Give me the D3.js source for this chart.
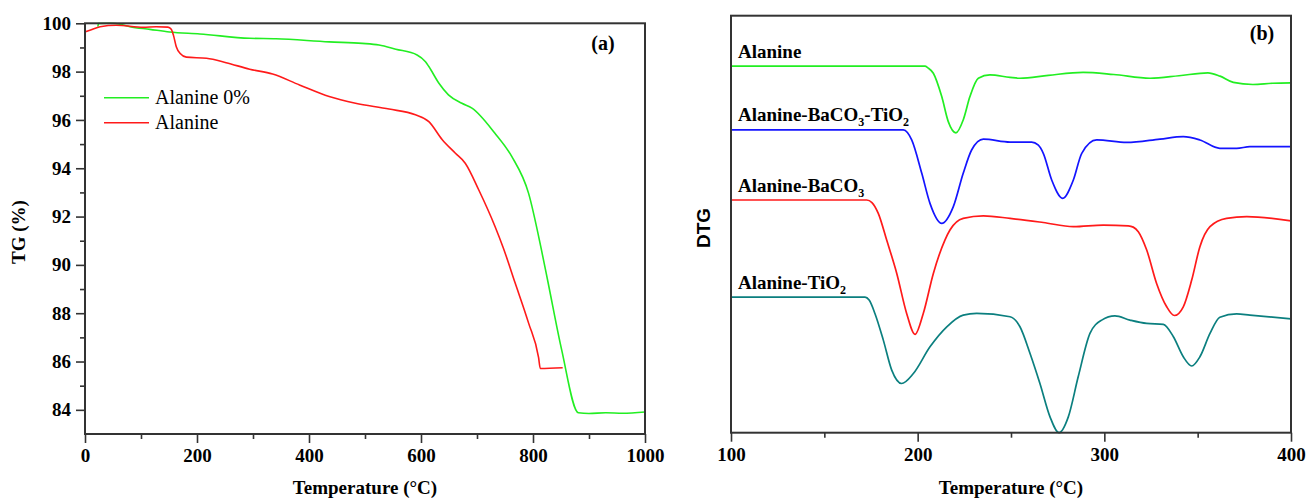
<!DOCTYPE html>
<html>
<head>
<meta charset="utf-8">
<script src="https://cdn.jsdelivr.net/npm/d3@7"></script>
<style>
  body { margin: 0; background: #fff; }
  svg text { font-family: "Liberation Serif", "Times New Roman", serif; fill: #000; }
</style>
</head>
<body>
<svg id="chart" width="1307" height="499"></svg>
<script>
// ---------- Panel (a): TG curves, [temperature °C, mass %] ----------
const tgAlanine0 = [
  [23, 99.86], [24, 99.99], [45, 100.0], [65, 99.95], [80, 99.86], [116, 99.75],
  [151, 99.64], [205, 99.56], [294, 99.38], [341, 99.36], [436, 99.23], [495, 99.17],
  [525, 99.10], [555, 98.93], [593, 98.69], [608, 98.41], [614, 98.21], [632, 97.52],
  [649, 97.04], [673, 96.69], [691, 96.49], [732, 95.45], [762, 94.49], [792, 92.97],
  [815, 90.63], [827, 89.26], [851, 86.50], [881, 83.88], [900, 83.85], [930, 83.88],
  [960, 83.86], [1000, 83.91]
];
const tgAlanine = [
  [0, 99.64], [10, 99.72], [27, 99.86], [56, 99.92], [104, 99.83], [127, 99.86],
  [148, 99.84], [154, 99.75], [158, 99.50], [163, 99.03], [170, 98.75], [181, 98.60],
  [217, 98.55], [252, 98.37], [294, 98.10], [335, 97.90], [383, 97.45], [436, 96.97],
  [483, 96.69], [543, 96.45], [590, 96.21], [614, 95.93], [638, 95.18], [661, 94.63],
  [679, 94.21], [703, 93.11], [732, 91.60], [747, 90.70], [768, 89.26], [792, 87.60],
  [810, 86.16], [813, 85.71], [853, 85.74]
];
const tgXTicks = [0, 200, 400, 600, 800, 1000];
const tgXMinor = [100, 300, 500, 700, 900];
const tgYTicks = [84, 86, 88, 90, 92, 94, 96, 98, 100];
const tgYMinor = [85, 87, 89, 91, 93, 95, 97, 99];
const tgLegend = ["Alanine 0%", "Alanine"];

// ---------- Panel (b): DTG curves, [temperature °C, arbitrary units] ----------
const dtgAlanine = [
  [100, 87.9], [200, 87.9], [203.9, 87.9], [205.5, 87.5], [208.4, 86.2], [212.9, 80.6],
  [216.4, 74.6], [220.5, 71.9], [224.4, 75.0], [228.0, 80.6], [232.5, 85.0], [238.7, 85.8],
  [249.5, 85.2], [254.8, 85.0], [270, 85.7], [288.6, 86.4], [305, 85.9], [324.5, 85.0],
  [340, 85.6], [355.5, 86.3], [362, 85.5], [369.1, 84.0], [379.6, 83.5], [390, 83.8], [400, 83.9]
];
const dtgBaTi = [
  [100, 72.6], [192.3, 72.6], [194.5, 72.0], [196.8, 70.2], [202.2, 62.2], [206.6, 55.0],
  [212.9, 50.2], [219.1, 54.2], [224.4, 62.2], [228.9, 67.8], [235.2, 70.4], [249.5, 69.7],
  [261.1, 69.7], [264.5, 69.0], [267.3, 67.0], [271.8, 60.6], [277.7, 56.2], [283.4, 60.6],
  [287.9, 67.0], [295.9, 70.2], [312.0, 69.6], [329.8, 70.4], [342.3, 71.0], [351.2, 70.2],
  [361.9, 68.2], [370.9, 68.2], [378.0, 68.6], [400, 68.6]
];
const dtgBa = [
  [100, 55.8], [172.7, 55.8], [175.5, 55.2], [178.9, 52.6], [183.4, 46.2], [188.8, 38.2],
  [194.1, 28.6], [198.6, 23.6], [203.0, 28.6], [208.4, 38.2], [214.6, 46.2], [217.3, 48.6],
  [224.4, 51.4], [235.2, 52.0], [249.5, 51.4], [267.3, 50.4], [283.4, 49.4], [299.4, 49.8],
  [312.8, 49.6], [315.5, 49.3], [318.2, 48.2], [322.7, 43.8], [328.0, 35.8], [333.4, 30.2],
  [337.5, 28.1], [342.3, 30.2], [346.8, 36.6], [351.2, 44.6], [356.6, 49.4], [365.5, 51.4],
  [376.3, 51.8], [400, 50.8]
];
const dtgTi = [
  [100, 32.5], [171.8, 32.5], [174.0, 31.8], [177.1, 28.6], [181.6, 22.2], [186.1, 15.0],
  [191.4, 11.8], [197.7, 14.2], [206.6, 20.6], [215.6, 25.4], [224.4, 28.2], [231.6, 28.6],
  [249.5, 27.8], [254.8, 25.4], [260.2, 19.0], [265.5, 11.8], [270.9, 3.8], [275.7, 0.0],
  [280.7, 3.8], [286.0, 13.4], [292.3, 23.8], [298.6, 27.0], [305.7, 28.0], [313.7, 27.0],
  [322.7, 26.2], [331.6, 26.0], [337.0, 23.0], [342.3, 18.2], [346.8, 16.0], [351.2, 18.2],
  [356.6, 23.8], [361.9, 27.7], [370.9, 28.5], [378.0, 28.2], [400, 27.3]
];
const dtgXTicks = [100, 200, 300, 400];
const dtgXMinor = [150, 250, 350];
// label text pieces: [text, isSubscript]
const dtgLabels = [
  [["Alanine", false]],
  [["Alanine-BaCO", false], ["3", true], ["-TiO", false], ["2", true]],
  [["Alanine-BaCO", false], ["3", true]],
  [["Alanine-TiO", false], ["2", true]]
];

const svg = d3.select("#chart");
const frameColor = "#333";

// ---------- panel geometry ----------
const A = { left: 85, right: 645, top: 23.3, bottom: 434 };
const B = { left: 731, right: 1291, top: 15.7, bottom: 432.7 };

function styleAxis(g) {
  g.select(".domain").remove();
  g.selectAll(".tick line").attr("stroke", frameColor).attr("stroke-width", 1.6);
  g.selectAll(".tick text")
    .attr("font-family", "Liberation Serif, Times New Roman, serif")
    .attr("font-weight", "bold")
    .attr("font-size", 19)
    .attr("fill", "#000");
}

// ===== Panel (a) =====
const xA = d3.scaleLinear().domain([0, 1000]).range([A.left, A.right]);
const yA = d3.scaleLinear().domain([83, 100]).range([A.bottom, A.top]);

svg.append("g").attr("transform", `translate(0,${A.bottom})`)
  .call(d3.axisBottom(xA).tickValues(tgXMinor).tickSize(5).tickFormat(""))
  .call(styleAxis);
svg.append("g").attr("transform", `translate(0,${A.bottom})`)
  .call(d3.axisBottom(xA).tickValues(tgXTicks).tickSize(9).tickPadding(6).tickFormat(d3.format("d")))
  .call(styleAxis);
svg.append("g").attr("transform", `translate(${A.left},0)`)
  .call(d3.axisLeft(yA).tickValues(tgYMinor).tickSize(5).tickFormat(""))
  .call(styleAxis);
svg.append("g").attr("transform", `translate(${A.left},0)`)
  .call(d3.axisLeft(yA).tickValues(tgYTicks).tickSize(9).tickPadding(5).tickFormat(d3.format("d")))
  .call(styleAxis);

const lineA = d3.line().x(d => xA(d[0])).y(d => yA(d[1])).curve(d3.curveMonotoneX);
svg.append("path").datum(tgAlanine0).attr("d", lineA)
  .attr("fill", "none").attr("stroke", "#22ee22").attr("stroke-width", 1.6);
svg.append("path").datum(tgAlanine).attr("d", lineA)
  .attr("fill", "none").attr("stroke", "#ff1a1a").attr("stroke-width", 1.6);

svg.append("rect")
  .attr("x", A.left).attr("y", A.top)
  .attr("width", A.right - A.left).attr("height", A.bottom - A.top)
  .attr("fill", "none").attr("stroke", frameColor).attr("stroke-width", 2);

// legend
const legColors = ["#22ee22", "#ff1a1a"];
tgLegend.forEach((t, i) => {
  const ly = 97.7 + i * 25;
  svg.append("line").attr("x1", 104).attr("x2", 149).attr("y1", ly).attr("y2", ly)
    .attr("stroke", legColors[i]).attr("stroke-width", 1.6);
  svg.append("text").attr("x", 155).attr("y", ly + 6.6)
    .attr("font-size", 20).text(t);
});

svg.append("text").attr("x", 603).attr("y", 50).attr("text-anchor", "middle")
  .attr("font-weight", "bold").attr("font-size", 20).text("(a)");

svg.append("text").attr("x", (A.left + A.right) / 2).attr("y", 494)
  .attr("text-anchor", "middle").attr("font-weight", "bold").attr("font-size", 19)
  .text("Temperature (°C)");
svg.append("text")
  .attr("transform", `translate(25,232) rotate(-90)`)
  .attr("text-anchor", "middle").attr("font-weight", "bold").attr("font-size", 19)
  .text("TG (%)");

// ===== Panel (b) =====
const xB = d3.scaleLinear().domain([100, 400]).range([B.left, B.right]);
const yB = d3.scaleLinear().domain([0, 100]).range([B.bottom, B.top]);

svg.append("g").attr("transform", `translate(0,${B.bottom})`)
  .call(d3.axisBottom(xB).tickValues(dtgXMinor).tickSize(5).tickFormat(""))
  .call(styleAxis);
svg.append("g").attr("transform", `translate(0,${B.bottom})`)
  .call(d3.axisBottom(xB).tickValues(dtgXTicks).tickSize(9).tickPadding(6).tickFormat(d3.format("d")))
  .call(styleAxis);

const lineB = d3.line().x(d => xB(d[0])).y(d => yB(d[1])).curve(d3.curveMonotoneX);
const dtgSeries = [
  { data: dtgAlanine, color: "#22ee22" },
  { data: dtgBaTi, color: "#1414ff" },
  { data: dtgBa, color: "#ff1a1a" },
  { data: dtgTi, color: "#0b7f7f" }
];
dtgSeries.forEach(s => {
  svg.append("path").datum(s.data).attr("d", lineB)
    .attr("fill", "none").attr("stroke", s.color).attr("stroke-width", 1.7);
});

svg.append("rect")
  .attr("x", B.left).attr("y", B.top)
  .attr("width", B.right - B.left).attr("height", B.bottom - B.top)
  .attr("fill", "none").attr("stroke", frameColor).attr("stroke-width", 2);

// curve labels, placed just above the flat start of each curve
dtgLabels.forEach((parts, i) => {
  const base = dtgSeries[i].data[0][1];
  const t = svg.append("text")
    .attr("x", B.left + 7).attr("y", yB(base) - 8.5)
    .attr("font-weight", "bold").attr("font-size", 19);
  parts.forEach(([str, sub]) => {
    if (sub) {
      t.append("tspan").attr("font-size", 12).attr("dy", 5).text(str);
    } else {
      const ts = t.append("tspan").text(str);
      if (t.selectAll("tspan").size() > 1) ts.attr("dy", -5);
    }
  });
});

svg.append("text").attr("x", 1262).attr("y", 40).attr("text-anchor", "middle")
  .attr("font-weight", "bold").attr("font-size", 20).text("(b)");

svg.append("text").attr("x", (B.left + B.right) / 2).attr("y", 494)
  .attr("text-anchor", "middle").attr("font-weight", "bold").attr("font-size", 19)
  .text("Temperature (°C)");
svg.append("text")
  .attr("transform", `translate(710,228) rotate(-90)`)
  .attr("text-anchor", "middle").attr("font-weight", "bold").attr("font-size", 19)
  .style("font-family", "Liberation Sans, Arial, sans-serif")
  .text("DTG");
</script>
</body>
</html>
